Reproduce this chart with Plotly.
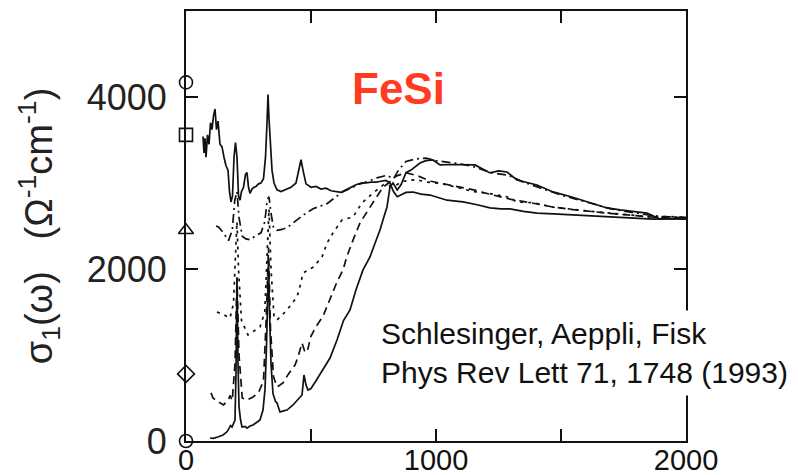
import plotly.graph_objects as go

# ---- data ----
c1_x = [68, 72, 76, 80, 86, 92, 98, 104, 110, 116, 122, 128, 136, 144, 152, 160, 168, 174, 180, 186, 192, 198, 204, 210, 216, 222, 230, 238, 244, 250, 256, 264, 272, 280, 290, 300, 310, 318, 324, 328, 332, 338, 344, 352, 364, 380, 396, 420, 440, 452, 460, 468, 480, 500, 520, 540, 560, 580, 600, 620, 640, 660, 680, 700, 720, 740, 760, 780, 800, 816, 830, 845, 860, 880, 908, 940, 976, 1010, 1044, 1080, 1108, 1160, 1216, 1260, 1296, 1350, 1404, 1470, 1536, 1600, 1668, 1740, 1804, 1868, 1930, 2000]
c1_y = [3540, 3350, 3520, 3300, 3560, 3450, 3700, 3620, 3780, 3860, 3620, 3720, 3450, 3420, 3300, 3200, 3150, 2900, 2780, 2850, 3300, 3470, 3300, 2850, 2800, 2900, 2950, 3100, 3120, 2950, 2880, 2930, 2950, 2960, 2990, 3000, 3050, 3300, 3700, 4030, 3750, 3350, 3150, 3000, 2920, 2900, 2920, 2950, 3000, 3150, 3270, 3150, 2990, 2950, 2960, 2930, 2940, 2910, 2900, 2890, 2920, 2950, 2980, 3000, 3000, 3010, 3010, 3020, 3030, 3000, 2900, 2840, 2860, 2890, 2895, 2870, 2860, 2830, 2800, 2790, 2780, 2750, 2710, 2700, 2700, 2670, 2650, 2640, 2630, 2615, 2605, 2595, 2590, 2580, 2582, 2580]

c2_x = [120, 130, 150, 170, 185, 195, 204, 212, 225, 240, 256, 280, 300, 315, 325, 332, 340, 350, 364, 384, 404, 440, 470, 508, 540, 564, 600, 628, 660, 688, 720, 764, 804, 830, 850, 880, 920, 960, 1000, 1050, 1100, 1150, 1220, 1290, 1350, 1420, 1500, 1600, 1700, 1800, 1900, 2000]
c2_y = [2500, 2490, 2420, 2330, 2450, 2800, 2900, 2600, 2380, 2350, 2340, 2390, 2420, 2550, 2800, 2840, 2650, 2480, 2450, 2460, 2480, 2560, 2630, 2700, 2730, 2760, 2840, 2900, 2940, 2980, 3010, 3060, 3090, 3050, 3150, 3250, 3280, 3290, 3260, 3240, 3220, 3190, 3120, 3090, 3010, 2940, 2860, 2780, 2700, 2650, 2610, 2600]

c3_x = [124, 150, 176, 190, 200, 204, 210, 222, 248, 270, 296, 315, 326, 332, 340, 352, 364, 384, 404, 424, 444, 456, 468, 488, 508, 544, 564, 588, 624, 668, 704, 748, 790, 830, 870, 920, 964, 1028, 1084, 1150, 1210, 1284, 1324, 1390, 1468, 1550, 1620, 1700, 1780, 1860, 1940, 2000]
c3_y = [1500, 1470, 1430, 1600, 2300, 2550, 2000, 1400, 1233, 1280, 1326, 1500, 2400, 2700, 2000, 1450, 1407, 1460, 1523, 1600, 1675, 1800, 1950, 1990, 2020, 2140, 2300, 2420, 2570, 2605, 2768, 2884, 2980, 2960, 3020, 3040, 3010, 2990, 2950, 2900, 2880, 2840, 2780, 2770, 2720, 2690, 2670, 2650, 2630, 2605, 2610, 2600]

c4_x = [100, 108, 130, 150, 170, 176, 185, 196, 204, 212, 225, 244, 268, 290, 310, 322, 330, 338, 350, 364, 376, 388, 410, 436, 448, 464, 474, 484, 500, 520, 548, 576, 604, 628, 644, 670, 696, 736, 764, 788, 810, 840, 880, 930, 980, 1030, 1080, 1150, 1228, 1300, 1380, 1468, 1550, 1640, 1720, 1800, 1880, 1950, 2000]
c4_y = [560, 500, 453, 420, 480, 530, 470, 900, 1900, 1000, 500, 477, 512, 560, 700, 1500, 2250, 1300, 750, 630, 651, 675, 780, 884, 977, 1140, 1050, 1030, 1220, 1330, 1450, 1640, 1850, 1990, 2150, 2350, 2535, 2720, 2840, 2950, 3000, 3080, 3120, 3080, 3020, 2990, 2960, 2920, 2860, 2810, 2770, 2720, 2690, 2660, 2640, 2620, 2600, 2600, 2595]

c5_x = [96, 110, 130, 148, 165, 178, 184, 192, 196, 200, 204, 208, 212, 218, 224, 236, 244, 256, 268, 282, 296, 308, 316, 322, 326, 330, 334, 340, 348, 358, 364, 376, 390, 404, 428, 448, 464, 472, 480, 488, 500, 520, 548, 576, 604, 630, 656, 680, 708, 736, 756, 776, 790, 804, 816, 828, 845, 860, 880, 900, 936, 960, 988, 1016, 1068, 1110, 1156, 1216, 1250, 1284, 1324, 1404, 1468, 1540, 1604, 1684, 1736, 1790, 1844, 1896, 1950, 2000]
c5_y = [35, 30, 50, 70, 110, 180, 163, 220, 244, 800, 1900, 900, 400, 250, 163, 170, 150, 175, 186, 215, 244, 360, 600, 1100, 1800, 2100, 1500, 900, 550, 460, 442, 337, 350, 360, 419, 480, 535, 767, 650, 593, 610, 700, 826, 965, 1175, 1400, 1523, 1760, 1989, 2140, 2300, 2454, 2590, 2721, 2954, 3000, 2920, 2980, 3120, 3150, 3233, 3260, 3268, 3210, 3215, 3210, 3210, 3117, 3140, 3128, 3035, 2977, 2896, 2840, 2780, 2710, 2687, 2670, 2650, 2582, 2590, 2590]

dc_x = [0, 0, 0, 0, 0]
dc_y = [4170, 3560, 2450, 780, 0]
dc_symbols = ["circle-open", "square-open", "triangle-up-open", "diamond-open", "circle-open"]

x_tickvals = [0, 500, 1000, 1500, 2000]
x_ticktext = ["0", "", "1000", "", "2000"]
y_tickvals = [0, 2000, 4000]
y_ticktext = ["0", "2000", "4000"]

curves = [
    (c1_x, c1_y, "solid"),
    (c2_x, c2_y, "9px,4px,2px,4px"),
    (c3_x, c3_y, "3px,5px"),
    (c4_x, c4_y, "8px,5px"),
    (c5_x, c5_y, "solid"),
]

fig = go.Figure()
for cx, cy, dash in curves:
    fig.add_trace(go.Scatter(x=cx, y=cy, mode="lines",
                             line=dict(color="#111111", width=1.7, dash=dash),
                             showlegend=False, hoverinfo="skip"))

fig.add_trace(go.Scatter(x=dc_x, y=dc_y, mode="markers",
                         marker=dict(symbol=dc_symbols, size=13, color="#111111",
                                     line=dict(color="#111111", width=1.6)),
                         cliponaxis=False, showlegend=False, hoverinfo="skip"))

fig.update_layout(
    width=798, height=475,
    margin=dict(l=186, r=112, t=11, b=34),
    paper_bgcolor="white", plot_bgcolor="white",
    font=dict(family="Arial, Liberation Sans, sans-serif", color="#111111"),
    xaxis=dict(range=[0, 2000], showgrid=False, zeroline=False, automargin=False,
               showline=True, linewidth=2, linecolor="#111111", mirror="ticks",
               ticks="inside", ticklen=12, tickwidth=1.6, tickcolor="#111111",
               tickvals=x_tickvals, ticktext=x_ticktext, ticklabelstandoff=-8,
               tickfont=dict(size=29, color="#111111")),
    yaxis=dict(range=[0, 5000], showgrid=False, zeroline=False, automargin=False,
               showline=True, linewidth=2, linecolor="#111111", mirror="ticks",
               ticks="inside", ticklen=12, tickwidth=1.6, tickcolor="#111111",
               tickvals=y_tickvals, ticktext=y_ticktext,
               ticklabelstandoff=10,
               tickfont=dict(size=36, color="#222222"),
               title=dict(text="σ<sub>1</sub>(ω)   (Ω<sup>-1</sup>cm<sup>-1</sup>)",
                          font=dict(size=38, color="#222222"), standoff=22)),
    annotations=[
        dict(text="<b>FeSi</b>", xref="paper", yref="paper", x=0.425, y=0.819,
             xanchor="center", yanchor="middle", showarrow=False,
             font=dict(size=44, color="#ff3b22")),
        dict(text="Schlesinger, Aeppli, Fisk<br>Phys Rev Lett 71, 1748 (1993)",
             xref="paper", yref="paper", x=0.376, y=0.205,
             xanchor="left", yanchor="middle", align="left", showarrow=False,
             bgcolor="white", borderpad=6,
             font=dict(size=30, color="#111111")),
    ],
)

fig.write_html("out.html")
